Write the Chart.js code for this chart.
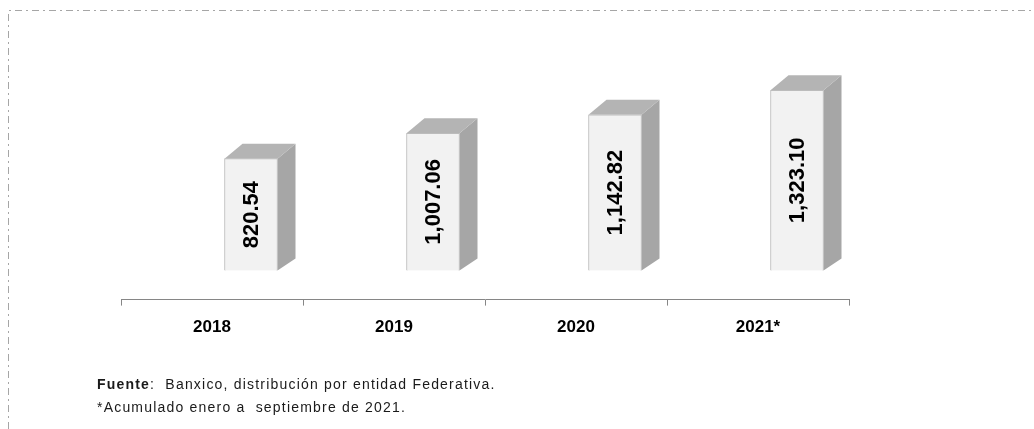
<!DOCTYPE html>
<html>
<head>
<meta charset="utf-8">
<script src="https://cdn.jsdelivr.net/npm/chart.js@4"></script>
<style>
    html, body { margin: 0; padding: 0; background: #ffffff; }
    #wrap { position: relative; width: 1034px; height: 429px; overflow: hidden; }
    #chart { position: absolute; left: 0; top: 0; }
    .note {
        position: absolute;
        left: 97px;
        font-family: "Liberation Sans", Arial, sans-serif;
        font-size: 14px;
        line-height: 16px;
        letter-spacing: 1.2px;
        color: #1a1a1a;
        white-space: nowrap;
    }
</style>
</head>
<body>
<div id="wrap">
    <canvas id="chart" width="1034" height="429"></canvas>
    <div class="note" style="top: 376px;"><b>Fuente</b>:&nbsp; Banxico, distribución por entidad Federativa.</div>
    <div class="note" style="top: 399px;">*Acumulado enero a&nbsp; septiembre de 2021.</div>
</div>

<script>
// ===============================
// Data
// ===============================

const years = ["2018", "2019", "2020", "2021*"];
const amounts = [820.54, 1007.06, 1142.82, 1323.10];

// ===============================
// 3D look (Excel style box bars)
// ===============================

const BAR_SHIFT = 39;   // bars sit right of the category centre
const DEPTH_X = 18;
const DEPTH_Y = 15;

const fmt = v => v.toLocaleString("en-US", { minimumFractionDigits: 2, maximumFractionDigits: 2 });

const boxBars = {
    id: "boxBars",
    beforeDatasetsDraw(chart) {
        const ctx = chart.ctx;
        const meta = chart.getDatasetMeta(0);
        ctx.save();
        meta.data.forEach(bar => {
            const left = bar.x - bar.width / 2 + BAR_SHIFT;
            const right = bar.x + bar.width / 2 + BAR_SHIFT;
            const top = bar.y;
            const bottom = bar.base;

            // side face
            ctx.beginPath();
            ctx.moveTo(right, top);
            ctx.lineTo(right + DEPTH_X, top - DEPTH_Y);
            ctx.lineTo(right + DEPTH_X, bottom - DEPTH_Y + 3);
            ctx.lineTo(right, bottom);
            ctx.closePath();
            ctx.fillStyle = "#a6a6a6";
            ctx.fill();

            // top face
            ctx.beginPath();
            ctx.moveTo(left, top);
            ctx.lineTo(left + DEPTH_X, top - DEPTH_Y);
            ctx.lineTo(right + DEPTH_X, top - DEPTH_Y);
            ctx.lineTo(right, top);
            ctx.closePath();
            ctx.fillStyle = "#b4b4b4";
            ctx.fill();
        });
        ctx.translate(BAR_SHIFT, 0);
    },
    afterDatasetsDraw(chart) {
        const ctx = chart.ctx;
        ctx.restore();

        // value labels, rotated
        const meta = chart.getDatasetMeta(0);
        ctx.save();
        ctx.fillStyle = "#000000";
        ctx.font = "bold 22px 'Liberation Sans', Arial, sans-serif";
        ctx.textAlign = "center";
        ctx.textBaseline = "middle";
        meta.data.forEach((bar, i) => {
            ctx.save();
            ctx.translate(bar.x + BAR_SHIFT, (bar.y + bar.base) / 2);
            ctx.rotate(-Math.PI / 2);
            ctx.fillText(fmt(amounts[i]), 0, 1);
            ctx.restore();
        });
        ctx.restore();
    }
};

// dash-dot frame round the chart
const frame = {
    id: "frame",
    beforeDraw(chart) {
        const ctx = chart.ctx;
        ctx.save();
        ctx.strokeStyle = "#a6a6a6";
        ctx.lineWidth = 1;
        ctx.setLineDash([7, 4, 2, 4]);
        ctx.beginPath();
        ctx.moveTo(8.5, 429);
        ctx.lineTo(8.5, 10.5);
        ctx.lineTo(1034, 10.5);
        ctx.stroke();
        ctx.restore();
    }
};

new Chart(document.getElementById("chart"), {
    type: "bar",
    data: {
        labels: years,
        datasets: [{
            data: amounts,
            backgroundColor: "#f2f2f2",
            borderColor: "#bcbcbc",
            borderWidth: 1,
            barThickness: 53
        }]
    },
    plugins: [frame, boxBars],
    options: {
        responsive: false,
        animation: false,
        events: [],
        layout: {
            padding: { left: 121, right: 185, top: 60, bottom: 79 }
        },
        plugins: {
            legend: { display: false },
            tooltip: { enabled: false }
        },
        scales: {
            x: {
                offset: true,
                grid: {
                    offset: true,
                    drawOnChartArea: false,
                    drawTicks: true,
                    tickLength: 6,
                    color: "#868686"
                },
                border: { color: "#868686", width: 1 },
                ticks: {
                    color: "#000000",
                    padding: 12,
                    font: { family: "'Liberation Sans', Arial, sans-serif", size: 17, weight: "bold" }
                }
            },
            y: {
                display: false,
                min: -214,
                max: 1545
            }
        }
    }
});
</script>
</body>
</html>
